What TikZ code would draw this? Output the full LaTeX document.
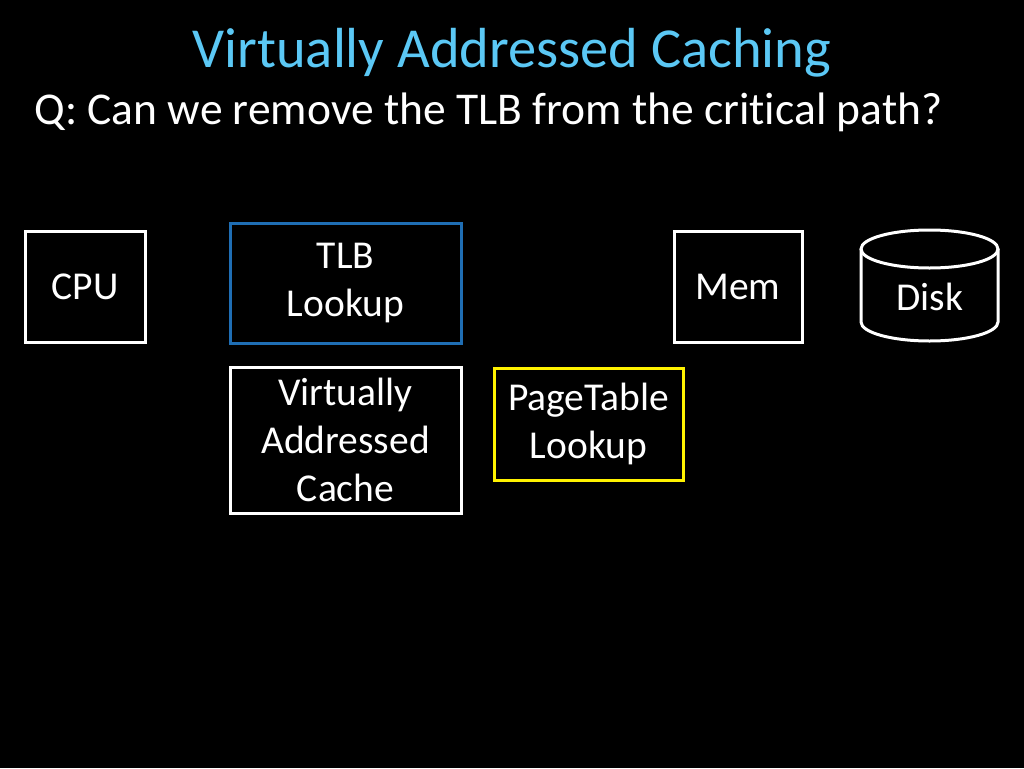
\documentclass[tikz,border=0pt]{standalone}
\usepackage{fontspec}
\setmainfont{Carlito}[Ligatures=NoCommon]
\definecolor{titleblue}{HTML}{5BC8F5}
\definecolor{tlbblue}{HTML}{1F6EB4}
\tikzset{
  unit/.style={draw=white,line width=3pt,text=white,align=center,
    font=\fontsize{39.5}{48}\selectfont},
}

\begin{document}
\begin{tikzpicture}[x=1pt,y=-1pt]
        \fill[black] (0,0) rectangle (1024,768);
        \useasboundingbox (0,0) rectangle (1024,768);
        \node[text=titleblue,font=\fontsize{56.5}{60}\selectfont] (title) at (512,53) {Virtually Addressed Caching};
        \node[text=white,anchor=west,font=\fontsize{45.5}{50}\selectfont] (question) at (31,112) {Q: Can we remove the TLB from the critical path?};
        \node[unit,minimum width=120,minimum height=111] (cpu) at (85,286.5) {CPU};
        \node[unit,draw=tlbblue,minimum width=231,minimum height=120] (tlb) at (345.5,283) {TLB\\Lookup};
        \node[unit,minimum width=128,minimum height=111] (mem) at (738,286.5) {Mem};
        \node[unit,minimum width=231,minimum height=146] (cache) at (345.5,440) {Virtually\\Addressed\\Cache};
        \node[unit,draw=yellow,minimum width=189,minimum height=112] (pt) at (588.5,424) {PageTable\\Lookup};
        \draw[white,line width=3pt] (929.5,249) ellipse [x radius=68.5,y radius=19];
        \draw[white,line width=3pt] (861,249) -- (861,322) arc [start angle=180,end angle=0,x radius=68.5,y radius=19] -- (998,249);
        \node[text=white,font=\fontsize{39.5}{48}\selectfont] (disk) at (930,297) {Disk};
    \end{tikzpicture}
\end{document}
